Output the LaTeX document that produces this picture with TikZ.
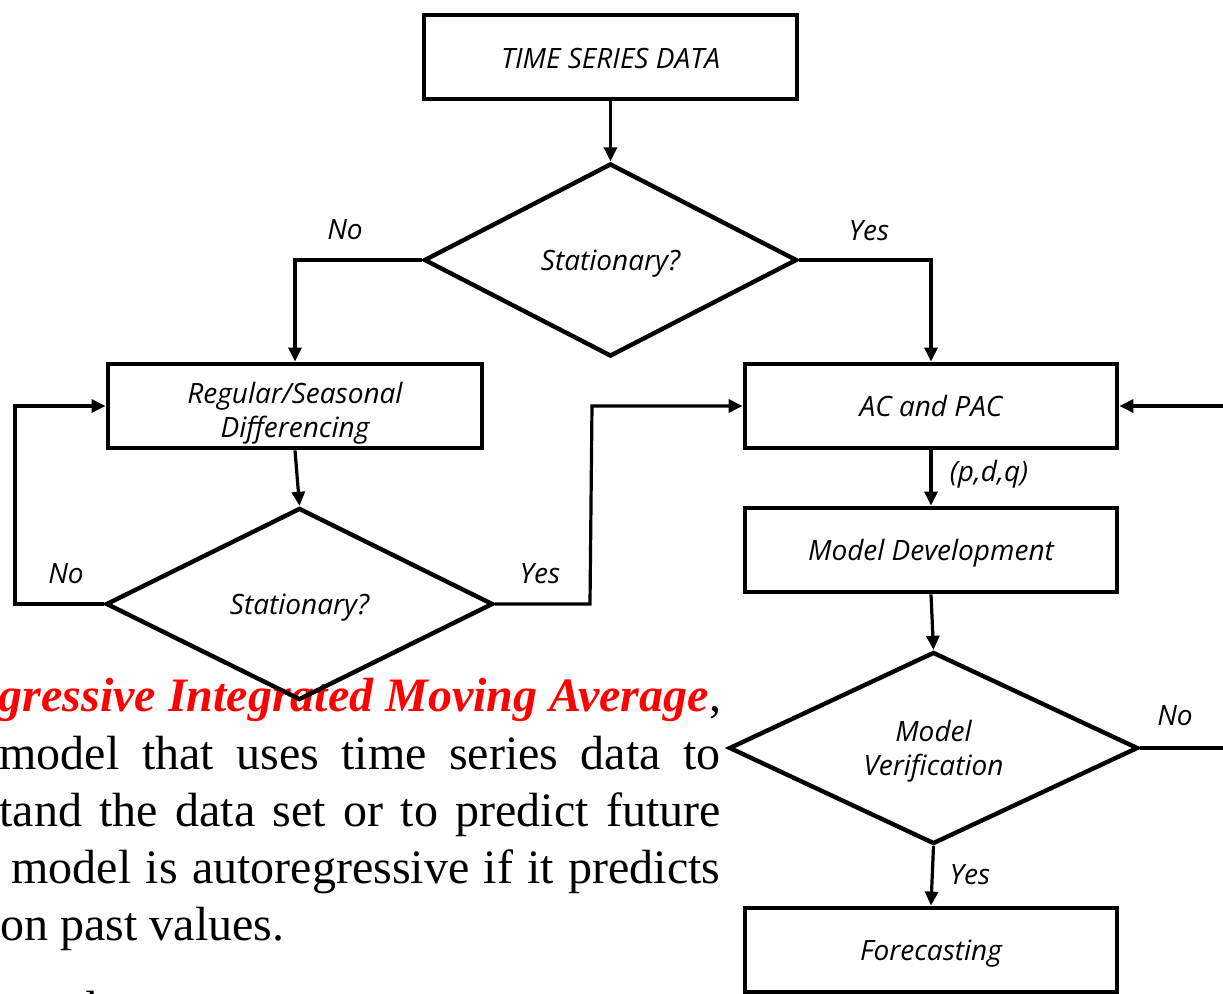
\documentclass[tikz,border=0pt]{standalone}
\usepackage{fontspec}
\setmainfont{Liberation Serif}
\newfontfamily\diagfont{Open Sans}
\usetikzlibrary{shapes.geometric,arrows.meta}
\newcommand\lowr[2]{\raisebox{-#1}[\height][\depth]{#2}}
\begin{document}
\begin{tikzpicture}[x=0.5pt,y=-0.5pt,
  box/.style={draw,line width=2.4pt,rectangle,minimum width=186pt,minimum height=42pt,inner sep=0pt,
    font=\diagfont\itshape\fontsize{14}{17}\selectfont,align=center},
  dia/.style={draw,line width=2.2pt,diamond,aspect=2,inner sep=0pt,
    font=\diagfont\itshape\fontsize{14}{17}\selectfont,align=center},
  conn/.style={line width=1.6pt},
  arr/.style={conn,-{Triangle[length=7pt,width=6.5pt]}},
  lbl/.style={font=\diagfont\itshape\fontsize{14}{14}\selectfont,inner sep=0pt},
  para/.style={font=\fontsize{24}{28}\selectfont,inner sep=0pt}]
\clip (0,0) rectangle (1223,994);
\fill[white] (0,0) rectangle (1223,994);

% paragraph text (behind the diagram)
\node[para,anchor=base east,text=red] (p1) at (709,712) {\bfseries\itshape gressive Integrated Moving Average};
\node[para,anchor=base west] (p1c) at (p1.base east) {,};
\node[para,anchor=base east] (p2) at (721,770) {\hbox to 360.5pt{model\hfill that\hfill uses\hfill time\hfill series\hfill data\hfill to}};
\node[para,anchor=base east] (p3) at (721,827) {\hbox to 360.5pt{tand\hfill the\hfill data\hfill set\hfill or\hfill to\hfill predict\hfill future}};
\node[para,anchor=base east] (p4) at (721,884) {\hbox to 354.5pt{model\hfill is\hfill autoregressive\hfill if\hfill it\hfill predicts}};
\node[para,anchor=base west] (p5) at (0,941) {on past values.};
\node[para,anchor=base west] (p6) at (0,1024) {ure data};

% nodes
\node[box,minimum width=186.5pt] (tsd) at (610.5,57) {\lowr{0.7pt}{TIME SERIES DATA}};
\node[dia,minimum width=186.5pt,minimum height=96.5pt] (d1) at (610.5,260) {\lowr{2pt}{Stationary?}};
\node[box,minimum width=187pt] (reg) at (295,406) {\lowr{3.5pt}{Regular/Seasonal}\\\lowr{3.5pt}{Differencing}};
\node[dia,minimum width=193.5pt,minimum height=96pt] (d2) at (299.5,604) {\lowr{2pt}{Stationary?}};
\node[box] (ac) at (931,406) {AC and PAC};
\node[box] (md) at (931,550) {\lowr{1.5pt}{Model Development}};
\node[dia,minimum width=204.5pt,minimum height=96pt] (d3) at (933.5,748) {\lowr{1.8pt}{Model}\\\lowr{1.8pt}{Verification}};
\node[box] (fc) at (931,950) {\lowr{2pt}{Forecasting}};

\coordinate (c1) at (15,604);
\coordinate (c2) at (590,604);
\coordinate (c3) at (592,406);
\coordinate (r1) at (1235,406);
\coordinate (r2) at (1235,748);

% connectors
\draw[arr] (tsd.south) -- (d1.north);
\draw[arr] (d1.west) -| (reg.north);
\draw[arr] (d1.east) -| (ac.north);
\draw[arr] (reg.south) -- (d2.north);
\draw[arr] (d2.west) -- (c1) |- (reg.west);
\draw[arr] (d2.east) -- (c2) -- (c3) -- (ac.west);
\draw[arr] (r1) -- (ac.east);
\draw[arr] (ac.south) -- (md.north);
\draw[arr] (md.south) -- (d3.north);
\draw[conn] (d3.east) -- (r2);
\draw[arr] (d3.south) -- (fc.north);

% labels
\node[lbl] (l1) at (345,230) {No};
\node[lbl] (l2) at (869,231) {Yes};
\node[lbl] (l3) at (66,574) {No};
\node[lbl] (l4) at (540,574) {Yes};
\node[lbl] (l5) at (989,474) {(p,d,q)};
\node[lbl] (l6) at (1175,716) {No};
\node[lbl] (l7) at (970,875) {Yes};
\end{tikzpicture}
\end{document}
